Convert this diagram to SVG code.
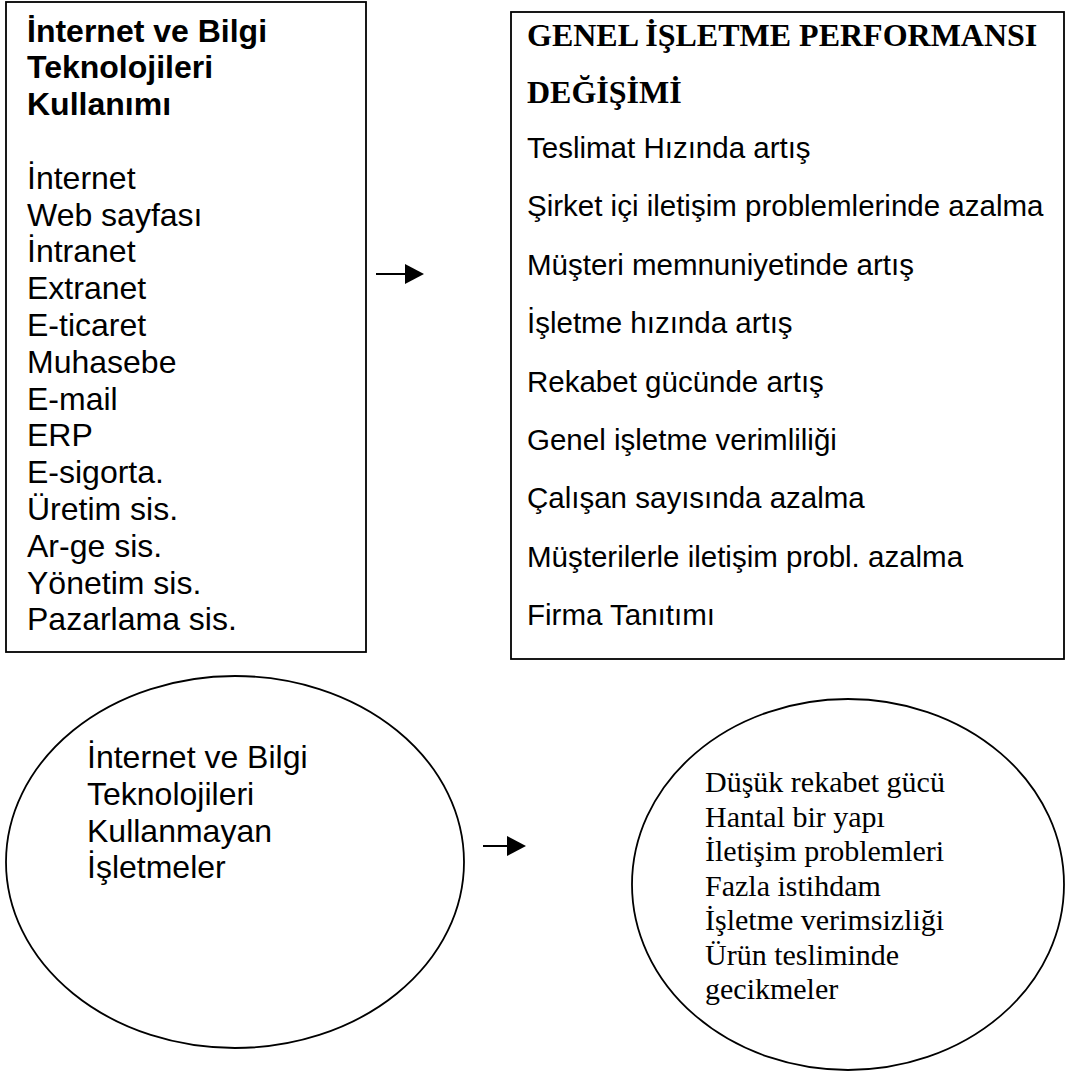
<svg xmlns="http://www.w3.org/2000/svg" width="1089" height="1083" viewBox="0 0 1089 1083">
<style>
.box{fill:#fff;stroke:#000;stroke-width:1.8}
.sb{font-family:"Liberation Sans",Arial,sans-serif;font-weight:bold;font-size:32px;fill:#000}
.s{font-family:"Liberation Sans",Arial,sans-serif;font-size:32px;fill:#000}
.s2{font-family:"Liberation Sans",Arial,sans-serif;font-size:29.5px;fill:#000}
.tb{font-family:"Liberation Serif","Times New Roman",serif;font-weight:bold;font-size:32px;fill:#000}
.t{font-family:"Liberation Serif","Times New Roman",serif;font-size:30px;fill:#000}
.conn{stroke:#000;stroke-width:2;fill:none}
</style>
<defs>
<marker id="ah" markerUnits="userSpaceOnUse" markerWidth="20" markerHeight="20" refX="0" refY="10" orient="auto">
<path d="M0,0 L19,10 L0,20 Z" fill="#000"/>
</marker>
</defs>
<rect width="1089" height="1083" fill="#fff"/>
<g id="node-it-usage">
<rect class="box" x="6" y="2" width="360" height="650"/>
<text class="sb" x="27" y="41.5">İnternet ve Bilgi</text>
<text class="sb" x="27" y="78.3">Teknolojileri</text>
<text class="sb" x="27" y="115.1">Kullanımı</text>
<text class="s" x="27" y="188.7">İnternet</text>
<text class="s" x="27" y="225.5">Web sayfası</text>
<text class="s" x="27" y="262.3">İntranet</text>
<text class="s" x="27" y="299.1">Extranet</text>
<text class="s" x="27" y="335.9">E-ticaret</text>
<text class="s" x="27" y="372.7">Muhasebe</text>
<text class="s" x="27" y="409.5">E-mail</text>
<text class="s" x="27" y="446.3">ERP</text>
<text class="s" x="27" y="483.1">E-sigorta.</text>
<text class="s" x="27" y="519.9">Üretim sis.</text>
<text class="s" x="27" y="556.7">Ar-ge sis.</text>
<text class="s" x="27" y="593.5">Yönetim sis.</text>
<text class="s" x="27" y="630.3">Pazarlama sis.</text>
</g>
<g id="node-performance">
<rect class="box" x="511" y="12" width="553" height="647"/>
<text class="tb" x="527" y="46">GENEL İŞLETME PERFORMANSI</text>
<text class="tb" x="527" y="103">DEĞİŞİMİ</text>
<text class="s2" x="527" y="158">Teslimat Hızında artış</text>
<text class="s2" x="527" y="216.4">Şirket içi iletişim problemlerinde azalma</text>
<text class="s2" x="527" y="274.8">Müşteri memnuniyetinde artış</text>
<text class="s2" x="527" y="333.2">İşletme hızında artış</text>
<text class="s2" x="527" y="391.6">Rekabet gücünde artış</text>
<text class="s2" x="527" y="450">Genel işletme verimliliği</text>
<text class="s2" x="527" y="508.4">Çalışan sayısında azalma</text>
<text class="s2" x="527" y="566.8">Müşterilerle iletişim probl. azalma</text>
<text class="s2" x="527" y="625.2">Firma Tanıtımı</text>
</g>
<g id="node-non-users">
<ellipse class="box" cx="235" cy="862" rx="229" ry="186"/>
<text class="s" x="87" y="768">İnternet ve Bilgi</text>
<text class="s" x="87" y="804.8">Teknolojileri</text>
<text class="s" x="87" y="841.6">Kullanmayan</text>
<text class="s" x="87" y="878.4">İşletmeler</text>
</g>
<g id="node-consequences">
<ellipse class="box" cx="848" cy="884.5" rx="216" ry="185.5"/>
<text class="t" x="705" y="792">Düşük rekabet gücü</text>
<text class="t" x="705" y="826.5">Hantal bir yapı</text>
<text class="t" x="705" y="861">İletişim problemleri</text>
<text class="t" x="705" y="895.5">Fazla istihdam</text>
<text class="t" x="705" y="930">İşletme verimsizliği</text>
<text class="t" x="705" y="964.5">Ürün tesliminde</text>
<text class="t" x="705" y="999">gecikmeler</text>
</g>
<g id="connectors">
<line class="conn" x1="376" y1="274" x2="405" y2="274" marker-end="url(#ah)"/>
<line class="conn" x1="483" y1="846" x2="507" y2="846" marker-end="url(#ah)"/>
</g>
</svg>
